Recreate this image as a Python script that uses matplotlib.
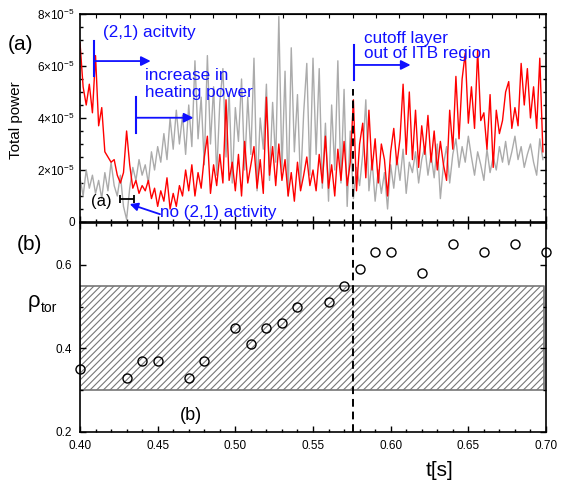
import numpy as np
import matplotlib
matplotlib.use("Agg")
import matplotlib.pyplot as plt
import matplotlib.ticker as ticker

plt.rcParams['font.family'] = ['Liberation Sans', 'DejaVu Sans']
plt.rcParams['mathtext.fontset'] = 'custom'
plt.rcParams['mathtext.rm'] = 'Liberation Sans'
plt.rcParams['mathtext.it'] = 'Liberation Sans'
plt.rcParams['hatch.linewidth'] = 0.8
plt.rcParams['hatch.color'] = '#222222'

# time base of the power traces [s]
t_start, t_step = 0.400, 0.002
# total power, in units of 1e-5 (red and gray traces)
red_power = [6.9, 5.2, 4.5, 5.3, 4.2, 6.4, 3.7, 4.4, 2.7, 2.5,
             2.3, 2.4, 1.8, 1.5, 1.9, 3.5, 2.2, 1.3, 1.6, 1.1,
             1.4, 1.2, 1.6, 0.9, 1.3, 0.6, 1.2, 0.8, 1.7, 0.5,
             1.1, 0.6, 1.4, 1.0, 2.0, 1.2, 2.2, 1.0, 1.9, 1.3,
             2.5, 3.3, 1.1, 2.2, 1.4, 2.6, 1.5, 4.7, 1.6, 2.3,
             1.2, 2.6, 1.0, 3.1, 1.5, 2.2, 2.9, 1.3, 2.4, 1.1,
             4.8, 1.8, 2.9, 1.4, 3.0, 1.6, 2.4, 1.0, 1.9, 0.8,
             2.3, 1.2, 1.8, 2.5, 1.4, 2.0, 1.2, 2.6, 1.5, 3.3,
             1.3, 2.2, 1.0, 2.8, 1.6, 3.1, 1.4, 2.3, 4.7, 1.2,
             3.0, 3.8, 1.7, 4.3, 2.0, 3.2, 1.5, 3.0, 2.4, 1.0,
             2.7, 3.6, 2.2, 3.2, 5.3, 2.6, 5.0, 2.4, 4.3, 2.1,
             3.7, 2.6, 4.1, 2.3, 3.5, 2.0, 3.1, 2.2, 1.6, 4.3,
             2.8, 5.6, 3.2, 5.5, 6.5, 3.8, 5.2, 3.6, 6.6, 3.9,
             4.2, 2.8, 4.9, 2.1, 4.3, 3.4, 3.9, 5.0, 5.4, 3.6,
             4.4, 3.7, 6.1, 4.5, 5.9, 4.0, 5.2, 3.6, 6.3, 2.7]
gray_power = [1.7, 1.0, 2.0, 1.3, 1.8, 1.1, 1.6, 0.9, 1.9, 1.2,
              2.3, 1.4, 1.0, 1.8, 0.6, 0.1, 1.3, 2.1, 1.6, 2.4,
              1.8, 2.2, 1.5, 2.7, 2.0, 2.9, 2.3, 3.4, 2.4, 4.0,
              2.8, 4.3, 3.0, 4.1, 2.6, 4.5, 2.9, 6.2, 3.2, 4.8,
              2.2, 6.4, 3.0, 5.2, 1.8, 4.6, 5.9, 2.5, 5.0, 1.5,
              4.4, 3.1, 5.5, 2.0, 4.8, 2.6, 6.3, 1.2, 4.0, 2.8,
              5.3, 1.6, 4.6, 2.3, 7.9, 2.0, 5.8, 1.0, 6.7, 2.7,
              4.9, 1.4, 4.2, 6.1, 1.8, 6.3, 2.6, 5.9, 1.3, 3.8,
              0.8, 4.5, 2.0, 6.2, 1.5, 5.1, 0.6, 3.5, 0.9, 2.1,
              1.4, 2.6, 4.7, 1.2, 2.4, 0.8, 2.0, 1.1, 1.9, 0.5,
              2.2, 1.3, 2.5, 1.6, 2.8, 1.1, 2.3, 1.9, 2.7, 1.5,
              2.4, 2.9, 1.8, 2.6, 1.7, 3.0, 0.9, 2.2, 2.9, 1.5,
              2.6, 3.2, 2.1, 2.9, 2.3, 3.3, 2.5, 1.8, 2.7, 2.2,
              1.6, 2.8, 1.9, 2.5, 2.0, 2.9, 2.3, 3.1, 2.2, 2.7,
              3.3, 2.4, 2.9, 2.1, 2.6, 3.0, 2.3, 1.8, 3.2, 2.4]

# cutoff layer position
rho_t = [0.40, 0.43, 0.44, 0.45, 0.47, 0.48, 0.50, 0.51, 0.52, 0.53,
         0.54, 0.56, 0.57, 0.58, 0.59, 0.60, 0.62, 0.64, 0.66, 0.68, 0.70]
rho_tor = [0.35, 0.33, 0.37, 0.37, 0.33, 0.37, 0.45, 0.41, 0.45, 0.46,
           0.50, 0.51, 0.55, 0.59, 0.63, 0.63, 0.58, 0.65, 0.63, 0.65, 0.63]
itb_lo, itb_hi = 0.30, 0.55
t_cutoff = 0.5755

t = t_start + t_step*np.arange(len(red_power))
scale = 1e-5

fig = plt.figure(figsize=(5.63, 4.82), dpi=100)
ax1 = fig.add_axes([80/563, 1-222/482, 466/563, 208/482])
ax2 = fig.add_axes([80/563, 1-432/482, 466/563, 209/482])

ax1.plot(t, np.array(gray_power)*scale, color='#ababab', lw=1.0)
ax1.plot(t, np.array(red_power)*scale, color='#ff0000', lw=1.0)
ax1.plot([t_cutoff, t_cutoff], [0, 5.1e-5], color='k', lw=1.4, ls=(0, (4, 2.5)))
ax1.set_xlim(0.4, 0.7)
ax1.set_ylim(0, 8e-5)

def pw_fmt(v, pos=None):
  n = int(round(v/scale))
  if n == 0:
    return "0"
  return r"$%d{\times}10^{-5}$" % n

ax1.yaxis.set_major_locator(ticker.MultipleLocator(2e-5))
ax1.yaxis.set_minor_locator(ticker.MultipleLocator(0.5e-5))
ax1.yaxis.set_major_formatter(ticker.FuncFormatter(pw_fmt))
ax1.xaxis.set_major_locator(ticker.MultipleLocator(0.05))
ax1.xaxis.set_minor_locator(ticker.MultipleLocator(0.01))
ax1.tick_params(which='both', direction='in', left=True, right=True, top=False, bottom=True,
                labelbottom=False, labelsize=8.5, width=1)
ax1.tick_params(which='major', length=4)
ax1.tick_params(which='minor', length=2.5)
sec = ax1.secondary_xaxis('top')
sec.xaxis.set_major_locator(ticker.FixedLocator(0.4105 + 0.015*np.arange(20)))
sec.tick_params(direction='in', length=3, labeltop=False)

ax1.set_ylabel("Total power", fontsize=11, labelpad=4)
ax1.yaxis.set_label_coords(-57/466, 0.49)

blue = '#1010ff'
arr = dict(arrowstyle='-|>', color=blue, lw=1.3, mutation_scale=14, shrinkA=0, shrinkB=0)
# (2,1) activity
ax1.text(0.4148, 7.27e-5, "(2,1) acitvity", color=blue, fontsize=12.3, va='center')
ax1.plot([0.4093, 0.4093], [5.6e-5, 6.96e-5], color=blue, lw=1.5)
ax1.annotate("", xy=(0.4455, 6.19e-5), xytext=(0.4093, 6.19e-5), arrowprops=arr)
# heating power
ax1.text(0.4419, 5.62e-5, "increase in", color=blue, fontsize=12.3, va='center')
ax1.text(0.4419, 5.0e-5, "heating power", color=blue, fontsize=12.3, va='center')
ax1.plot([0.4363, 0.4363], [3.42e-5, 4.8e-5], color=blue, lw=1.5)
ax1.annotate("", xy=(0.4730, 4.01e-5), xytext=(0.4363, 4.01e-5), arrowprops=arr)
# cutoff layer
ax1.text(0.5828, 7.05e-5, "cutoff layer", color=blue, fontsize=12.3, va='center')
ax1.text(0.5828, 6.47e-5, "out of ITB region", color=blue, fontsize=12.3, va='center')
ax1.plot([0.5764, 0.5764], [5.46e-5, 6.8e-5], color=blue, lw=1.5)
ax1.annotate("", xy=(0.6128, 6.04e-5), xytext=(0.5764, 6.04e-5), arrowprops=arr)
# no (2,1) activity
ax1.text(0.4138, 0.8e-5, "(a)", color='k', fontsize=12, ha='center', va='center')
ax1.errorbar([0.4304], [0.885e-5], xerr=[[0.0046], [0.0046]], color='k', lw=1.3,
             capsize=3, capthick=1.3, fmt='none')
ax1.annotate("", xy=(0.4320, 0.69e-5), xytext=(0.4515, 0.3e-5),
             arrowprops=dict(arrowstyle='-|>', color=blue, lw=1.3, mutation_scale=12,
                             shrinkA=0, shrinkB=0))
ax1.text(0.4515, 0.36e-5, "no (2,1) activity", color=blue, fontsize=12.3, va='center')

# bottom panel
ax2.fill_between([0.4, 0.699], itb_lo, itb_hi, facecolor='white', edgecolor='#777777',
                 hatch='/////', lw=1.2)
ax2.plot(rho_t, rho_tor, 'o', mfc='none', mec='k', ms=6.5, mew=1.0, clip_on=False, zorder=5)
ax2.axvline(t_cutoff, color='k', lw=1.4, ls=(0, (4, 2.5)))
ax2.set_xlim(0.4, 0.7)
ax2.set_ylim(0.2, 0.7)
ax2.xaxis.set_major_locator(ticker.MultipleLocator(0.05))
ax2.xaxis.set_minor_locator(ticker.MultipleLocator(0.01))
ax2.xaxis.set_major_formatter(ticker.FormatStrFormatter("%.2f"))
ax2.yaxis.set_major_locator(ticker.FixedLocator([0.2, 0.4, 0.6]))
ax2.yaxis.set_minor_locator(ticker.FixedLocator([0.3, 0.5]))
ax2.yaxis.set_major_formatter(ticker.FormatStrFormatter("%.1f"))
ax2.tick_params(which='both', direction='in', top=True, right=True, labelsize=8.5, width=1, pad=6)
ax2.tick_params(which='major', length=4)
ax2.tick_params(which='minor', length=2.5)
ax2.text(110.5/466, (432-415)/209, "(b)", transform=ax2.transAxes, fontsize=13,
         ha='center', va='center')

for ax in (ax1, ax2):
  for s in ax.spines.values():
    s.set_linewidth(1.2)

fig.text(20.5/563, 1-44/482, "(a)", fontsize=15, ha='center', va='center')
fig.text(29.5/563, 1-245/482, "(b)", fontsize=15, ha='center', va='center')
fig.text(34/563, 1-301/482, "ρ", fontsize=16, ha='center', va='center')
fig.text(40.5/563, 1-308/482, "tor", fontsize=10, ha='left', va='center')
fig.text(440/563, 1-471/482, "t[s]", fontsize=15, ha='center', va='center')

fig.savefig("out.png", dpi=100)
